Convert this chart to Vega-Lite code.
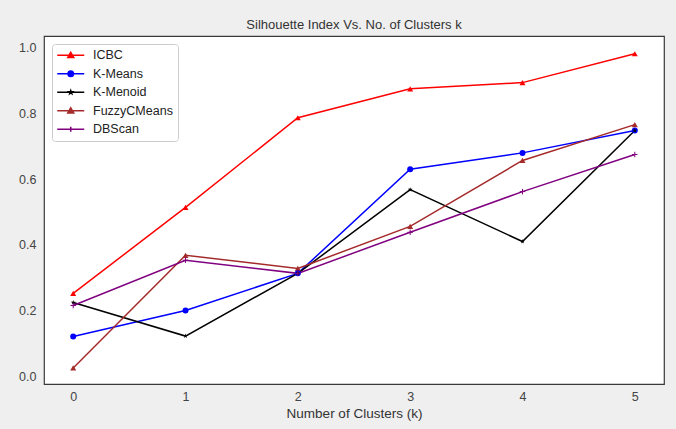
{
  "$schema": "https://vega.github.io/schema/vega-lite/v6.json",
  "width": 620,
  "height": 348,
  "autosize": "none",
  "padding": {"left": 44, "top": 36, "right": 12, "bottom": 45},
  "background": "#efefef",
  "config": {
    "font": "Liberation Sans",
    "view": {"fill": "white", "stroke": "#3a3a3a", "strokeWidth": 1.2},
    "axis": {
      "domain": false, "ticks": false, "grid": false,
      "labelFont": "Liberation Sans", "labelFontSize": 12.5, "labelColor": "#444444",
      "titleFont": "Liberation Sans", "titleFontSize": 13.5, "titleFontWeight": "normal", "titleColor": "#333333"
    }
  },
  "title": {
    "text": "Silhouette Index  Vs. No. of Clusters k",
    "font": "Liberation Sans", "fontSize": 13, "fontWeight": "normal", "color": "#333333",
    "anchor": "middle", "offset": 4
  },
  "data": {
    "values": [
      {"k": 0, "method": "ICBC", "score": 0.252},
      {"k": 1, "method": "ICBC", "score": 0.514},
      {"k": 2, "method": "ICBC", "score": 0.787},
      {"k": 3, "method": "ICBC", "score": 0.875},
      {"k": 4, "method": "ICBC", "score": 0.894},
      {"k": 5, "method": "ICBC", "score": 0.982},
      {"k": 0, "method": "K-Means", "score": 0.121},
      {"k": 1, "method": "K-Means", "score": 0.2},
      {"k": 2, "method": "K-Means", "score": 0.313},
      {"k": 3, "method": "K-Means", "score": 0.63},
      {"k": 4, "method": "K-Means", "score": 0.68},
      {"k": 5, "method": "K-Means", "score": 0.748},
      {"k": 0, "method": "K-Menoid", "score": 0.224},
      {"k": 1, "method": "K-Menoid", "score": 0.122},
      {"k": 2, "method": "K-Menoid", "score": 0.313},
      {"k": 3, "method": "K-Menoid", "score": 0.568},
      {"k": 4, "method": "K-Menoid", "score": 0.41},
      {"k": 5, "method": "K-Menoid", "score": 0.748},
      {"k": 0, "method": "FuzzyCMeans", "score": 0.025},
      {"k": 1, "method": "FuzzyCMeans", "score": 0.368},
      {"k": 2, "method": "FuzzyCMeans", "score": 0.328},
      {"k": 3, "method": "FuzzyCMeans", "score": 0.456},
      {"k": 4, "method": "FuzzyCMeans", "score": 0.657},
      {"k": 5, "method": "FuzzyCMeans", "score": 0.766},
      {"k": 0, "method": "DBScan", "score": 0.215},
      {"k": 1, "method": "DBScan", "score": 0.353},
      {"k": 2, "method": "DBScan", "score": 0.313},
      {"k": 3, "method": "DBScan", "score": 0.438},
      {"k": 4, "method": "DBScan", "score": 0.562},
      {"k": 5, "method": "DBScan", "score": 0.675}
    ]
  },
  "encoding": {
    "x": {
      "field": "k", "type": "quantitative",
      "scale": {"domain": [-0.26, 5.26], "nice": false, "zero": false},
      "axis": {"values": [0, 1, 2, 3, 4, 5], "format": "d", "labelPadding": 6, "titlePadding": 4, "title": "Number of Clusters (k)"}
    },
    "y": {
      "field": "score", "type": "quantitative",
      "scale": {"domain": [-0.024, 1.036], "nice": false, "zero": false},
      "axis": {"values": [0, 0.2, 0.4, 0.6, 0.8, 1.0], "format": ".1f", "labelPadding": 8, "title": null}
    },
    "color": {
      "field": "method", "type": "nominal",
      "scale": {
        "domain": ["ICBC", "K-Means", "K-Menoid", "FuzzyCMeans", "DBScan"],
        "range": ["#ff0000", "#0000ff", "#000000", "#a52a2a", "#800080"]
      },
      "legend": null
    }
  },
  "layer": [
    {
      "mark": {"type": "line", "strokeWidth": 1.5},
      "encoding": {
        "color": {
          "field": "method", "type": "nominal",
          "legend": {
            "title": null,
            "orient": "top-left",
            "offset": 8,
            "padding": 5,
            "fillColor": "white",
            "strokeColor": "#cccccc",
            "cornerRadius": 3,
            "labelFont": "Liberation Sans",
            "labelFontSize": 12.5,
            "labelColor": "#222222",
            "symbolSize": 100,
            "symbolOffset": 7.5,
            "labelOffset": 16,
            "rowPadding": 5.5,
            "encode": {
              "symbols": {
                "update": {
                  "shape": {"signal": "datum.value === 'ICBC' || datum.value === 'FuzzyCMeans' ? 'M-2.7,0H2.7M0,-0.6L0.6,0.45L-0.6,0.45Z' : datum.value === 'K-Means' ? 'M-2.7,0H2.7M0.55,0A0.55,0.55,0,1,1,-0.55,0A0.55,0.55,0,1,1,0.55,0Z' : datum.value === 'K-Menoid' ? 'M-2.7,0H2.7M0,-0.35L0.08,-0.11L0.33,-0.11L0.13,0.04L0.2,0.28L0,0.13L-0.2,0.28L-0.13,0.04L-0.33,-0.11L-0.08,-0.11Z' : 'M-2.7,0H2.7M0,-0.5V0.5'"},
                  "fill": {"scale": "color", "field": "value"},
                  "stroke": {"scale": "color", "field": "value"},
                  "strokeWidth": {"value": 1.5},
                  "opacity": {"value": 1}
                }
              }
            }
          }
        }
      }
    },
    {
      "transform": [{"filter": "datum.method === 'ICBC' || datum.method === 'FuzzyCMeans'"}],
      "mark": {"type": "point", "shape": "triangle-up", "filled": true, "opacity": 1, "size": 36}
    },
    {
      "transform": [{"filter": "datum.method === 'K-Means'"}],
      "mark": {"type": "point", "shape": "circle", "filled": true, "opacity": 1, "size": 36}
    },
    {
      "transform": [{"filter": "datum.method === 'K-Menoid'"}],
      "mark": {"type": "point", "shape": "M0,-1L0.225,-0.309L0.951,-0.309L0.363,0.118L0.588,0.809L0,0.382L-0.588,0.809L-0.363,0.118L-0.951,-0.309L-0.225,-0.309Z", "filled": true, "opacity": 1, "size": 25}
    },
    {
      "transform": [{"filter": "datum.method === 'DBScan'"}],
      "mark": {"type": "point", "shape": "M-1,0H1M0,-1V1", "filled": false, "opacity": 1, "size": 30, "strokeWidth": 1}
    }
  ]
}
